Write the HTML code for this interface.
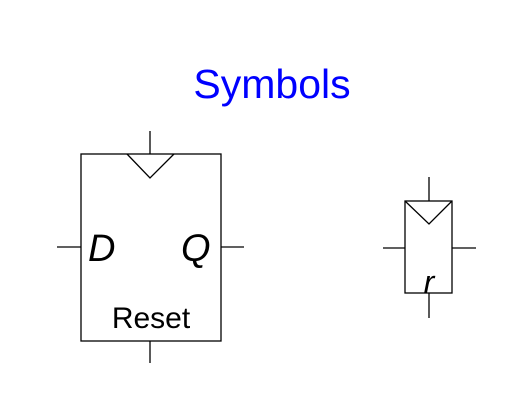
<!DOCTYPE html>
<html><head><style>body{margin:0;background:#fff}svg{display:block}</style></head><body>
<svg width="516" height="406" xmlns="http://www.w3.org/2000/svg" font-family="Liberation Sans, sans-serif">
<rect width="516" height="406" fill="#fff"/>
<text x="272" y="98" font-size="41" fill="#0000ff" text-anchor="middle">Symbols</text>
<g stroke="#000" stroke-width="1.3" fill="none">
<rect x="81" y="154" width="140" height="187"/>
<line x1="150" y1="131" x2="150" y2="154"/>
<polyline points="127,154 150,178 174,154"/>
<line x1="57" y1="247" x2="81" y2="247"/>
<line x1="221" y1="247" x2="244" y2="247"/>
<line x1="150" y1="341" x2="150" y2="363"/>
<rect x="405" y="201" width="47" height="92"/>
<line x1="429" y1="177" x2="429" y2="201"/>
<polyline points="405,201 429,224 452,201"/>
<line x1="383" y1="248" x2="405" y2="248"/>
<line x1="452" y1="248" x2="476" y2="248"/>
<line x1="429" y1="293" x2="429" y2="318"/>
</g>
<text x="88" y="261" font-size="38" font-style="italic">D</text>
<text x="181" y="261" font-size="38" font-style="italic">Q</text>
<text x="151" y="328" font-size="30" text-anchor="middle">Reset</text>
<text x="429" y="293" font-size="32" font-style="italic" text-anchor="middle">r</text>
</svg>
</body></html>
